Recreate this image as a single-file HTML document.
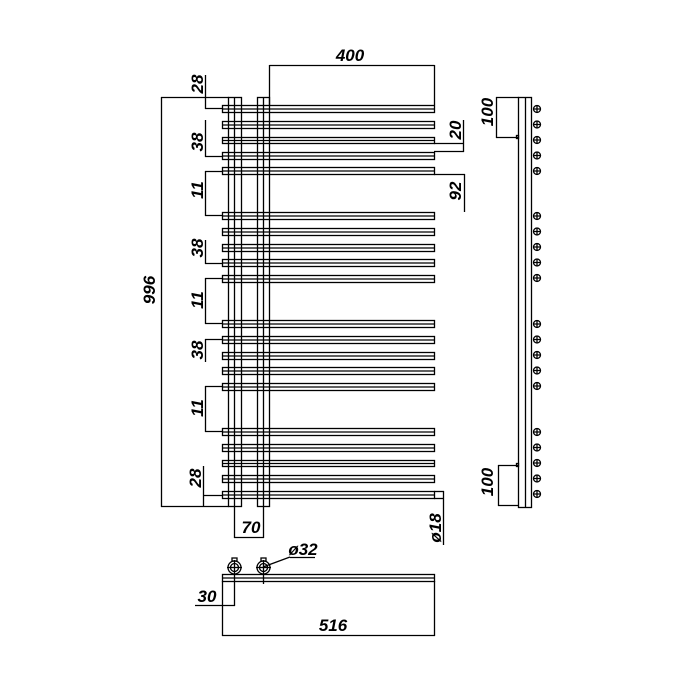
<!DOCTYPE html>
<html><head><meta charset="utf-8"><style>
html,body{margin:0;padding:0;background:#fff;}
svg{display:block}
text{font-family:"Liberation Sans",sans-serif;font-weight:bold;font-style:italic;font-size:17px;fill:#000}
</style></head><body>
<svg width="700" height="700" viewBox="0 0 700 700" xmlns="http://www.w3.org/2000/svg">
<g stroke="#000" stroke-width="1.3" fill="none">
<rect x="228.5" y="97.5" width="13" height="409"/>
<line x1="234.5" y1="97" x2="234.5" y2="507"/>
<rect x="257.5" y="97.5" width="12" height="409"/>
<line x1="263.5" y1="97" x2="263.5" y2="507"/>
<rect x="222.5" y="105.5" width="212" height="7"/><line x1="222" y1="109" x2="435" y2="109"/>
<rect x="222.5" y="121.5" width="212" height="7"/><line x1="222" y1="125" x2="435" y2="125"/>
<rect x="222.5" y="137.5" width="212" height="6"/><line x1="222" y1="140.5" x2="435" y2="140.5"/>
<rect x="222.5" y="152.5" width="212" height="7"/><line x1="222" y1="156" x2="435" y2="156"/>
<rect x="222.5" y="167.5" width="212" height="7"/><line x1="222" y1="171" x2="435" y2="171"/>
<rect x="222.5" y="212.5" width="212" height="7"/><line x1="222" y1="216" x2="435" y2="216"/>
<rect x="222.5" y="228.5" width="212" height="7"/><line x1="222" y1="232" x2="435" y2="232"/>
<rect x="222.5" y="244.5" width="212" height="7"/><line x1="222" y1="248" x2="435" y2="248"/>
<rect x="222.5" y="259.5" width="212" height="7"/><line x1="222" y1="263" x2="435" y2="263"/>
<rect x="222.5" y="275.5" width="212" height="7"/><line x1="222" y1="279" x2="435" y2="279"/>
<rect x="222.5" y="320.5" width="212" height="7"/><line x1="222" y1="324" x2="435" y2="324"/>
<rect x="222.5" y="336.5" width="212" height="7"/><line x1="222" y1="340" x2="435" y2="340"/>
<rect x="222.5" y="352.5" width="212" height="7"/><line x1="222" y1="356" x2="435" y2="356"/>
<rect x="222.5" y="367.5" width="212" height="7"/><line x1="222" y1="371" x2="435" y2="371"/>
<rect x="222.5" y="383.5" width="212" height="7"/><line x1="222" y1="387" x2="435" y2="387"/>
<rect x="222.5" y="428.5" width="212" height="7"/><line x1="222" y1="432" x2="435" y2="432"/>
<rect x="222.5" y="444.5" width="212" height="7"/><line x1="222" y1="448" x2="435" y2="448"/>
<rect x="222.5" y="460.5" width="212" height="6"/><line x1="222" y1="463.5" x2="435" y2="463.5"/>
<rect x="222.5" y="475.5" width="212" height="7"/><line x1="222" y1="479" x2="435" y2="479"/>
<rect x="222.5" y="491.5" width="212" height="7"/><line x1="222" y1="495" x2="435" y2="495"/>
<line x1="269.5" y1="65.5" x2="434.5" y2="65.5"/>
<line x1="269.5" y1="65" x2="269.5" y2="105"/>
<line x1="434.5" y1="65" x2="434.5" y2="105"/>
<line x1="161.5" y1="97" x2="161.5" y2="507"/>
<line x1="161" y1="97.5" x2="229" y2="97.5"/>
<line x1="161" y1="506.5" x2="229" y2="506.5"/>
<line x1="205.5" y1="75" x2="205.5" y2="109"/>
<line x1="205" y1="108.5" x2="222" y2="108.5"/>
<line x1="205.5" y1="120" x2="205.5" y2="157"/>
<line x1="205" y1="156.5" x2="222" y2="156.5"/>
<line x1="205" y1="171.5" x2="222" y2="171.5"/>
<line x1="205.5" y1="171" x2="205.5" y2="216"/>
<line x1="205" y1="215.5" x2="222" y2="215.5"/>
<line x1="205.5" y1="240" x2="205.5" y2="264"/>
<line x1="205" y1="263.5" x2="222" y2="263.5"/>
<line x1="205" y1="278.5" x2="222" y2="278.5"/>
<line x1="205.5" y1="278" x2="205.5" y2="324"/>
<line x1="205" y1="323.5" x2="222" y2="323.5"/>
<line x1="205" y1="339.5" x2="222" y2="339.5"/>
<line x1="205.5" y1="339" x2="205.5" y2="362"/>
<line x1="205.5" y1="386" x2="205.5" y2="432"/>
<line x1="205" y1="386.5" x2="222" y2="386.5"/>
<line x1="205" y1="431.5" x2="222" y2="431.5"/>
<line x1="203.5" y1="466" x2="203.5" y2="507"/>
<line x1="203" y1="495.5" x2="222" y2="495.5"/>
<line x1="463.5" y1="120" x2="463.5" y2="152"/>
<line x1="434" y1="143.5" x2="464" y2="143.5"/>
<line x1="434" y1="151.5" x2="464" y2="151.5"/>
<line x1="464.5" y1="174" x2="464.5" y2="212"/>
<line x1="434" y1="174.5" x2="465" y2="174.5"/>
<line x1="434" y1="491.5" x2="444" y2="491.5"/>
<line x1="434" y1="498.5" x2="444" y2="498.5"/>
<line x1="443.5" y1="491" x2="443.5" y2="545"/>
<line x1="234.5" y1="506" x2="234.5" y2="538"/>
<line x1="263.5" y1="506" x2="263.5" y2="538"/>
<line x1="234" y1="537.5" x2="264" y2="537.5"/>
<rect x="518.5" y="97.5" width="13" height="410"/>
<line x1="525.5" y1="97" x2="525.5" y2="508"/>
<line x1="496.5" y1="97" x2="496.5" y2="138"/>
<line x1="496" y1="97.5" x2="519" y2="97.5"/>
<line x1="496" y1="137.5" x2="518" y2="137.5"/>
<rect x="516.5" y="135.5" width="2" height="3"/>
<line x1="498.5" y1="465" x2="498.5" y2="506"/>
<line x1="498" y1="465.5" x2="518" y2="465.5"/>
<line x1="498" y1="505.5" x2="519" y2="505.5"/>
<rect x="516.5" y="463.5" width="2" height="3"/>
<rect x="222.5" y="574.5" width="212" height="7"/>
<line x1="222" y1="578" x2="435" y2="578"/>
<line x1="222.5" y1="581" x2="222.5" y2="636"/>
<line x1="434.5" y1="581" x2="434.5" y2="636"/>
<line x1="222" y1="635.5" x2="435" y2="635.5"/>
<line x1="234.5" y1="560" x2="234.5" y2="606"/>
<line x1="195" y1="605.5" x2="235" y2="605.5"/>
<line x1="263.5" y1="560" x2="263.5" y2="584"/>
<line x1="263" y1="567" x2="290" y2="557"/>
<line x1="290" y1="557.5" x2="315" y2="557.5"/>
<circle cx="234.5" cy="567.5" r="6.5"/><circle cx="234.5" cy="567.5" r="4"/>
<line x1="227" y1="567.5" x2="242" y2="567.5"/>
<rect x="232" y="558" width="5" height="3"/>
<circle cx="263.5" cy="567.5" r="6.5"/><circle cx="263.5" cy="567.5" r="4"/>
<line x1="256" y1="567.5" x2="271" y2="567.5"/>
<rect x="261" y="558" width="5" height="3"/>
<g><circle cx="537" cy="109" r="3.5"/><path d="M533 109h8M537 105v8"/></g>
<g><circle cx="537" cy="124.5" r="3.5"/><path d="M533 124.5h8M537 120.5v8"/></g>
<g><circle cx="537" cy="140" r="3.5"/><path d="M533 140h8M537 136v8"/></g>
<g><circle cx="537" cy="155.5" r="3.5"/><path d="M533 155.5h8M537 151.5v8"/></g>
<g><circle cx="537" cy="171" r="3.5"/><path d="M533 171h8M537 167v8"/></g>
<g><circle cx="537" cy="216" r="3.5"/><path d="M533 216h8M537 212v8"/></g>
<g><circle cx="537" cy="231.5" r="3.5"/><path d="M533 231.5h8M537 227.5v8"/></g>
<g><circle cx="537" cy="247" r="3.5"/><path d="M533 247h8M537 243v8"/></g>
<g><circle cx="537" cy="262.5" r="3.5"/><path d="M533 262.5h8M537 258.5v8"/></g>
<g><circle cx="537" cy="278" r="3.5"/><path d="M533 278h8M537 274v8"/></g>
<g><circle cx="537" cy="324" r="3.5"/><path d="M533 324h8M537 320v8"/></g>
<g><circle cx="537" cy="339.5" r="3.5"/><path d="M533 339.5h8M537 335.5v8"/></g>
<g><circle cx="537" cy="355" r="3.5"/><path d="M533 355h8M537 351v8"/></g>
<g><circle cx="537" cy="370.5" r="3.5"/><path d="M533 370.5h8M537 366.5v8"/></g>
<g><circle cx="537" cy="386" r="3.5"/><path d="M533 386h8M537 382v8"/></g>
<g><circle cx="537" cy="432" r="3.5"/><path d="M533 432h8M537 428v8"/></g>
<g><circle cx="537" cy="447.5" r="3.5"/><path d="M533 447.5h8M537 443.5v8"/></g>
<g><circle cx="537" cy="463" r="3.5"/><path d="M533 463h8M537 459v8"/></g>
<g><circle cx="537" cy="478.5" r="3.5"/><path d="M533 478.5h8M537 474.5v8"/></g>
<g><circle cx="537" cy="494" r="3.5"/><path d="M533 494h8M537 490v8"/></g>
</g>
<text x="350" y="61" text-anchor="middle">400</text>
<text transform="translate(155,290) rotate(-90)" text-anchor="middle">996</text>
<text transform="translate(203,84) rotate(-90)" text-anchor="middle">28</text>
<text transform="translate(203,142) rotate(-90)" text-anchor="middle">38</text>
<text transform="translate(203,190) rotate(-90)" text-anchor="middle">11</text>
<text transform="translate(203,248) rotate(-90)" text-anchor="middle">38</text>
<text transform="translate(203,300) rotate(-90)" text-anchor="middle">11</text>
<text transform="translate(203,350) rotate(-90)" text-anchor="middle">38</text>
<text transform="translate(203,408) rotate(-90)" text-anchor="middle">11</text>
<text transform="translate(201,478) rotate(-90)" text-anchor="middle">28</text>
<text transform="translate(461,130) rotate(-90)" text-anchor="middle">20</text>
<text transform="translate(461,191) rotate(-90)" text-anchor="middle">92</text>
<text transform="translate(493,112) rotate(-90)" text-anchor="middle">100</text>
<text transform="translate(493,482) rotate(-90)" text-anchor="middle">100</text>
<text transform="translate(441,528) rotate(-90)" text-anchor="middle">ø18</text>
<text x="251" y="533" text-anchor="middle">70</text>
<text x="303" y="555" text-anchor="middle">ø32</text>
<text x="207" y="602" text-anchor="middle">30</text>
<text x="333" y="631" text-anchor="middle">516</text>
</svg>
</body></html>
